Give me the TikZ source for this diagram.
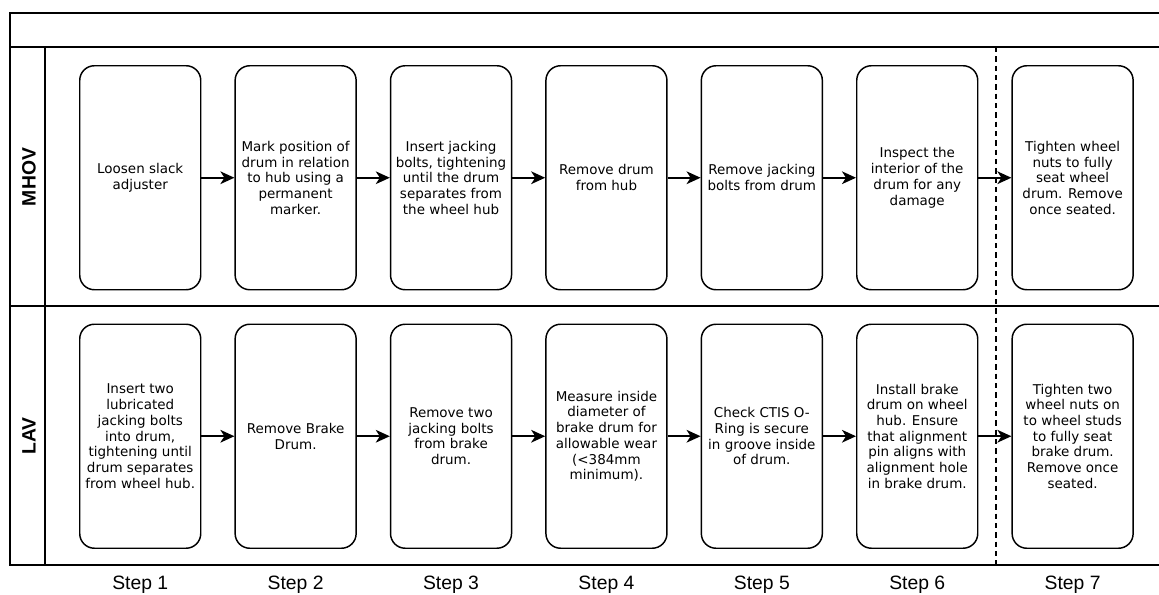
\documentclass[tikz,border=0pt]{standalone}
\usepackage{fontspec}
\setmainfont{DejaVu Sans}
\newfontfamily\arialfont{Liberation Sans}
\usetikzlibrary{arrows.meta,calc}
\tikzset{
  frame/.style={line width=1.6pt},
  stepbox/.style={draw, line width=1.1pt, rounded corners=11pt, minimum width=90.75pt, minimum height=168pt, inner sep=1pt, align=center, font=\fontsize{10.1}{11.8}\selectfont, anchor=north west},
  flow/.style={line width=1.5pt, -{Stealth[length=10.5pt,width=9.5pt,inset=3pt]}},
  lanelabel/.style={font=\arialfont\bfseries\fontsize{14.5}{16}\selectfont, rotate=90},
  steplabel/.style={font=\arialfont\fontsize{14.5}{16}\selectfont},
  divider/.style={line width=1.1pt, dash pattern=on 4pt off 3pt}
}
\begin{document}
\begin{tikzpicture}[x=0.75pt,y=-0.75pt]
\useasboundingbox (0,0) rectangle (1159,594);
% frame
\coordinate (tl) at (10,13);
\coordinate (tr) at (1165,13);
\coordinate (hl) at (10,47);
\coordinate (hr) at (1165,47);
\coordinate (ml) at (10,306);
\coordinate (mr) at (1165,306);
\coordinate (bl) at (10,565);
\coordinate (br) at (1165,565);
\coordinate (vt) at (45,47);
\coordinate (vb) at (45,565);
\draw[frame] (tr) -- (tl) -- (bl) -- (br);
\draw[frame] (hl) -- (hr);
\draw[frame] (ml) -- (mr);
\draw[frame] (vt) -- (vb);
\coordinate (dt) at (996,47);
\coordinate (db) at (996,565);
\draw[divider] (dt) -- (db);
% lane labels
\node[lanelabel] (lmhov) at (29,177) {MHOV};
\node[lanelabel] (llav) at (29,436) {LAV};
% MHOV boxes
\node[stepbox] (a1) at (79,65) {Loosen slack\\adjuster};
\node[stepbox] (a2) at (234.4,65) {Mark position of\\drum in relation\\to hub using a\\permanent\\marker.};
\node[stepbox] (a3) at (389.8,65) {Insert jacking\\bolts, tightening\\until the drum\\separates from\\the wheel hub};
\node[stepbox] (a4) at (545.2,65) {Remove drum\\from hub};
\node[stepbox] (a5) at (700.6,65) {Remove jacking\\bolts from drum};
\node[stepbox] (a6) at (856,65) {Inspect the\\interior of the\\drum for any\\damage};
\node[stepbox] (a7) at (1011.4,65) {Tighten wheel\\nuts to fully\\seat wheel\\drum. Remove\\once seated.};
% LAV boxes
\node[stepbox] (b1) at (79,323.5) {Insert two\\lubricated\\jacking bolts\\into drum,\\tightening until\\drum separates\\from wheel hub.};
\node[stepbox] (b2) at (234.4,323.5) {Remove Brake\\Drum.};
\node[stepbox] (b3) at (389.8,323.5) {Remove two\\jacking bolts\\from brake\\drum.};
\node[stepbox] (b4) at (545.2,323.5) {Measure inside\\diameter of\\brake drum for\\allowable wear\\(<384mm\\minimum).};
\node[stepbox] (b5) at (700.6,323.5) {Check CTIS O-\\Ring is secure\\in groove inside\\of drum.};
\node[stepbox] (b6) at (856,323.5) {Install brake\\drum on wheel\\hub. Ensure\\that alignment\\pin aligns with\\alignment hole\\in brake drum.};
\node[stepbox] (b7) at (1011.4,323.5) {Tighten two\\wheel nuts on\\to wheel studs\\to fully seat\\brake drum.\\Remove once\\seated.};
% arrows
\foreach \i/\j in {1/2,2/3,3/4,4/5,5/6,6/7}{
  \draw[flow] (a\i.east) -- (a\j.west);
  \draw[flow] (b\i.east) -- (b\j.west);
}
% step labels
\foreach \i in {1,...,7}{
  \node[steplabel] (s\i) at ($(b\i.south)+(0,36)$) {Step \i};
}
\end{tikzpicture}
\end{document}
